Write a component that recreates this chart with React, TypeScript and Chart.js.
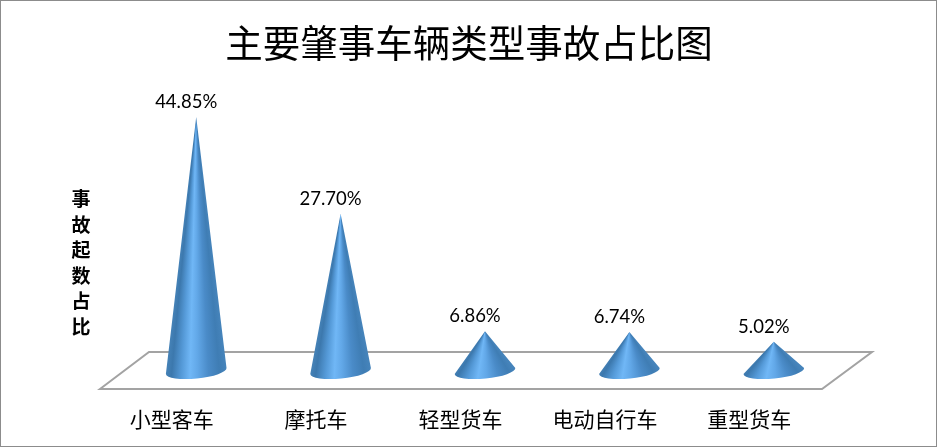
import React, { useEffect, useRef } from 'react';
import { Chart, registerables } from 'chart.js';

Chart.register(...registerables);

// Chart data
const categories = ['小型客车', '摩托车', '轻型货车', '电动自行车', '重型货车'];
const shares = [44.85, 27.7, 6.86, 6.74, 5.02];
const axisTitle = ['事', '故', '起', '数', '占', '比'];
const chartTitle = '主要肇事车辆类型事故占比图';

const CJK_FONT = '"Noto Sans CJK SC", sans-serif';

// Shading across the cone: position from left edge (0) to right edge (1), colour
const coneStops: [number, string][] = [
  [0, '#4684bb'],
  [0.12, '#3f7db4'],
  [0.3, '#4a8bc8'],
  [0.48, '#62a8e8'],
  [0.6, '#70b7f6'],
  [0.74, '#559ad8'],
  [0.9, '#3c78ad'],
  [1, '#4683b8'],
];

// Frame, title and the 3D-looking floor under the cones
const backdropPlugin = {
  id: 'backdrop',
  beforeDatasetsDraw(chart: Chart) {
    const { ctx, chartArea, width, height } = chart;
    ctx.save();
    ctx.strokeStyle = '#8c8c8c';
    ctx.lineWidth = 2;
    ctx.strokeRect(0, 0, width, height);

    ctx.fillStyle = '#000';
    ctx.font = `37.5px ${CJK_FONT}`;
    ctx.textAlign = 'center';
    ctx.textBaseline = 'middle';
    ctx.fillText(chartTitle, 469, 43);

    const bottom = chartArea.bottom;
    ctx.strokeStyle = '#a3a3a3';
    ctx.beginPath();
    ctx.moveTo(chartArea.left - 24, bottom + 19);
    ctx.lineTo(chartArea.left + 25, bottom - 18);
    ctx.lineTo(chartArea.right + 26, bottom - 18);
    ctx.lineTo(chartArea.right - 24, bottom + 19);
    ctx.closePath();
    ctx.stroke();
    ctx.restore();
  },
};

// Each bar is painted as a cone, the bar element gives position and size
const conePlugin = {
  id: 'cones',
  afterDatasetsDraw(chart: Chart) {
    const { ctx } = chart;
    const bars = chart.getDatasetMeta(0).data as any[];
    bars.forEach((bar, i) => {
      const halfW = bar.width / 2;
      const tilt = -0.1;
      const cx = bar.x;
      const cy = bar.base + 1;
      const dx = halfW * Math.cos(tilt);
      const dy = halfW * Math.sin(tilt);

      // Conic gradient from the tip, so the bands close in towards it
      const coneH = cy - bar.y;
      const spread = Math.atan(halfW / coneH);
      const start = Math.PI / 2 - spread;
      const grad = (ctx as any).createConicGradient(start, bar.x, bar.y);
      const span = (2 * spread) / (2 * Math.PI);
      coneStops.forEach(([pos, color]) => {
        // pos 0 is the left edge, the conic sweep runs from right to left
        const ang = Math.atan(((1 - 2 * pos) * halfW) / coneH);
        grad.addColorStop((spread - ang) / (2 * spread) * span, color);
      });
      grad.addColorStop(Math.min(span + 0.01, 1), coneStops[0][1]);

      ctx.save();
      ctx.fillStyle = grad;
      ctx.beginPath();
      ctx.moveTo(bar.x, bar.y);
      ctx.lineTo(cx + dx, cy + dy);
      ctx.ellipse(cx, cy, halfW, 7.5, tilt, 0, Math.PI);
      ctx.closePath();
      ctx.fill();
      ctx.restore();

      // Value label, sits a little left of the tip
      ctx.save();
      ctx.fillStyle = '#000';
      ctx.font = '18.5px Lato, sans-serif';
      ctx.textAlign = 'center';
      ctx.textBaseline = 'middle';
      ctx.fillText(shares[i].toFixed(2) + '%', bar.x - 10, bar.y - 15);
      ctx.restore();
    });
  },
};

// Vertical axis title, one character per line
const axisTitlePlugin = {
  id: 'stackedAxisTitle',
  afterDraw(chart: Chart) {
    const { ctx } = chart;
    ctx.save();
    ctx.fillStyle = '#000';
    ctx.font = `bold 19px ${CJK_FONT}`;
    ctx.textAlign = 'center';
    ctx.textBaseline = 'middle';
    axisTitle.forEach((ch, i) => ctx.fillText(ch, 81, 199 + i * 25.5));
    ctx.restore();
  },
};

const App: React.FC = () => {
  const canvasRef = useRef<HTMLCanvasElement | null>(null);

  useEffect(() => {
    document.body.style.margin = '0';
    if (!canvasRef.current) return;

    const chart = new Chart(canvasRef.current, {
      type: 'bar',
      data: {
        labels: categories,
        datasets: [
          {
            data: shares,
            backgroundColor: 'transparent',
            categoryPercentage: 1,
            barPercentage: 0.422,
          },
        ],
      },
      options: {
        animation: false,
        responsive: false,
        devicePixelRatio: 1,
        layout: { padding: { left: 124, right: 91, top: 88, bottom: 0 } },
        plugins: {
          legend: { display: false },
          tooltip: { enabled: false },
          title: { display: false },
        },
        scales: {
          x: {
            grid: { display: false },
            border: { display: false },
            ticks: {
              color: '#000',
              font: { family: CJK_FONT, size: 21 },
              padding: 28,
              labelOffset: -24.5,
              autoSkip: false,
              maxRotation: 0,
            },
            afterFit: (scale: any) => {
              scale.height = 77;
            },
          },
          y: { display: false, min: 0, max: 50 },
        },
      },
      plugins: [backdropPlugin, conePlugin, axisTitlePlugin],
    });

    return () => chart.destroy();
  }, []);

  return <canvas ref={canvasRef} width={937} height={447} style={{ display: 'block' }} />;
};

export default App;
